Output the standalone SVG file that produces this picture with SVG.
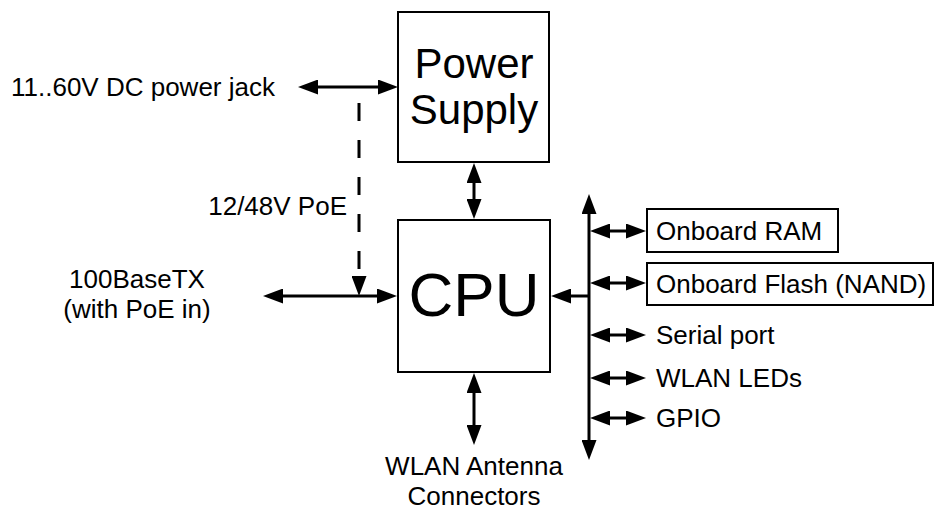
<svg xmlns="http://www.w3.org/2000/svg" width="935" height="511" viewBox="0 0 935 511">
<defs>
<style>
.box{fill:#fff;stroke:#000;stroke-width:2}
.ln{fill:none;stroke:#000;stroke-width:3}
.bi{marker-start:url(#ah);marker-end:url(#ah)}
.one{marker-end:url(#ah)}
.dash{stroke-dasharray:18 19}
text{font-family:"Liberation Sans",Arial,sans-serif;fill:#000;font-size:26px}
.mid{text-anchor:middle}
</style>
<marker id="ah" markerUnits="userSpaceOnUse" markerWidth="20" markerHeight="15" viewBox="0 0 20 15" refX="0" refY="7.5" orient="auto-start-reverse">
<path d="M0,0 L20,7.5 L0,15 z" fill="#000"/>
</marker>
</defs>
<rect width="935" height="511" fill="#fff"/>

<g id="connectors">
<line class="ln bi" x1="318" y1="87" x2="378" y2="87"/>
<line class="ln bi" x1="474" y1="183" x2="474" y2="199"/>
<line class="ln bi" x1="283" y1="296" x2="377" y2="296"/>
<line class="ln dash one" x1="359" y1="103" x2="359" y2="276"/>
<line class="ln bi" x1="474" y1="393" x2="474" y2="425"/>
<line class="ln bi" x1="589" y1="214" x2="589" y2="440"/>
<line class="ln one" x1="589" y1="296" x2="571" y2="296"/>
<line class="ln bi" x1="610" y1="231" x2="626" y2="231"/>
<line class="ln bi" x1="610" y1="283" x2="626" y2="283"/>
<line class="ln bi" x1="610" y1="335" x2="626" y2="335"/>
<line class="ln bi" x1="610" y1="378" x2="626" y2="378"/>
<line class="ln bi" x1="610" y1="418" x2="626" y2="418"/>
</g>

<g id="power-supply">
<rect class="box" x="398" y="12" width="151" height="150"/>
<text class="mid" x="474" y="78" style="font-size:42px">Power</text>
<text class="mid" x="474" y="124" style="font-size:42px">Supply</text>
</g>

<g id="cpu">
<rect class="box" x="398" y="220" width="152" height="152"/>
<text class="mid" x="474" y="316" style="font-size:62px">CPU</text>
</g>

<g id="dc-jack">
<text x="11" y="96">11..60V DC power jack</text>
</g>

<g id="poe-label">
<text x="347" y="215" text-anchor="end">12/48V PoE</text>
</g>

<g id="ethernet">
<text class="mid" x="137" y="288">100BaseTX</text>
<text class="mid" x="137" y="318">(with PoE in)</text>
</g>

<g id="antenna">
<text class="mid" x="474" y="475">WLAN Antenna</text>
<text class="mid" x="474" y="505">Connectors</text>
</g>

<g id="ram">
<rect class="box" x="647" y="209" width="191" height="43"/>
<text x="656" y="240">Onboard RAM</text>
</g>

<g id="flash">
<rect class="box" x="647" y="263" width="286" height="42"/>
<text x="656" y="293">Onboard Flash (NAND)</text>
</g>

<g id="serial">
<text x="656" y="344">Serial port</text>
</g>

<g id="leds">
<text x="656" y="387">WLAN LEDs</text>
</g>

<g id="gpio">
<text x="656" y="427">GPIO</text>
</g>
</svg>
